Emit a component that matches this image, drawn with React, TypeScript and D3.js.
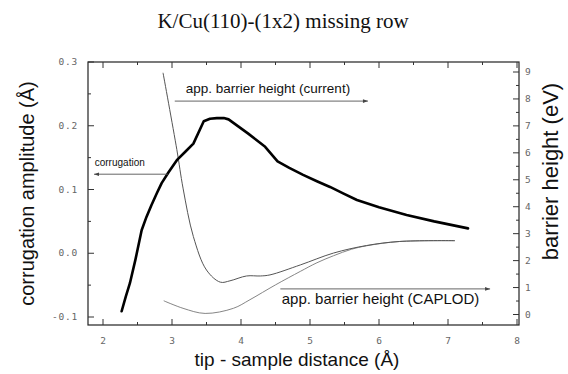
import React from "react";
import * as d3 from "d3";

const title = "K/Cu(110)-(1x2) missing row";
const xTicks = [2, 3, 4, 5, 6, 7, 8];
const leftTicks = [-0.1, 0.0, 0.1, 0.2, 0.3];
const rightTicks = [0, 1, 2, 3, 4, 5, 6, 7, 8, 9];

// corrugation amplitude (Å), left axis
const corrX = [2.27, 2.33, 2.39, 2.47, 2.56, 2.63, 2.7, 2.78, 2.85, 2.95, 3.07, 3.2, 3.31, 3.46, 3.55, 3.65, 3.75, 3.82, 4.1, 4.35, 4.53, 4.7, 4.9, 5.1, 5.29, 5.48, 5.68, 6.0, 6.4, 6.8, 7.29];
const corrY = [-0.091, -0.068, -0.047, -0.01, 0.036, 0.057, 0.075, 0.094, 0.11, 0.127, 0.146, 0.16, 0.172, 0.207, 0.211, 0.212, 0.212, 0.21, 0.188, 0.167, 0.144, 0.134, 0.123, 0.113, 0.104, 0.094, 0.0835, 0.072, 0.06, 0.05, 0.039];

// apparent barrier height (current), right axis
const curX = [2.87, 3.07, 3.16, 3.31, 3.5, 3.7, 3.84, 4.08, 4.28, 4.42, 4.86, 5.34, 5.82, 6.3, 7.1];
const curY = [8.97, 6.12, 4.69, 2.89, 1.65, 1.2, 1.25, 1.43, 1.43, 1.47, 1.84, 2.28, 2.56, 2.71, 2.74];

// apparent barrier height (CAPLOD), right axis
const capX = [2.88, 3.16, 3.48, 3.89, 4.13, 4.5, 4.86, 5.1, 5.34, 5.6, 5.82, 6.3, 7.1];
const capY = [0.51, 0.23, 0.04, 0.23, 0.55, 1.1, 1.6, 1.92, 2.18, 2.42, 2.55, 2.71, 2.74];

const W = 568;
const H = 374;
const frameL = 88, frameR = 519, frameT = 62, frameB = 325;

export default function App() {
  const x = d3.scaleLinear().domain([2, 8]).range([103, 517]);
  const yL = d3.scaleLinear().domain([-0.1, 0.3]).range([317, 62]);
  const yR = d3.scaleLinear().domain([0, 9]).range([314.5, 72]);

  const lineL = d3.line<number>().x((_, i) => x(corrX[i])).y((d) => yL(d)).curve(d3.curveLinear);
  const lineCur = d3.line<number>().x((_, i) => x(curX[i])).y((d) => yR(d)).curve(d3.curveCatmullRom.alpha(0.5));
  const lineCap = d3.line<number>().x((_, i) => x(capX[i])).y((d) => yR(d)).curve(d3.curveCatmullRom.alpha(0.5));

  const xMinor = d3.range(2, 8.01, 0.5);
  const lMinor = d3.range(-0.1, 0.301, 0.05);
  const rMinor = d3.range(0, 9.01, 0.5);

  const tickFont = { fontFamily: "DejaVu Sans Mono", fontSize: 9.5, fill: "#666" } as const;
  const sans = "Liberation Sans, Arial, sans-serif";

  const arrowHead = (px: number, py: number, dir: number) => (
    <path d={`M${px},${py} L${px - dir * 5},${py - 1.8} L${px - dir * 5},${py + 1.8} Z`} fill="#444" />
  );

  // annotation arrows in data units
  const aCur = { x1: 3.04, x2: 5.84, y: 7.92 };
  const aCorr = { x1: 1.87, x2: 2.94, y: 0.124 };
  const aCap = { x1: 4.57, x2: 7.61, y: 0.95 };

  return (
    <svg width={W} height={H} style={{ position: "absolute", left: 0, top: 0, background: "#fff" }}>
      <rect width={W} height={H} fill="#fff" />
      <text x={283} y={28} textAnchor="middle" fontFamily="Liberation Serif, Times New Roman, serif" fontSize={21} fill="#111">
        {title}
      </text>

      {/* frame */}
      <rect x={frameL} y={frameT} width={frameR - frameL} height={frameB - frameT} fill="none" stroke="#222" strokeWidth={1.2} />

      {/* bottom/top ticks */}
      {xMinor.map((v, i) => {
        const major = Math.abs(v - Math.round(v)) < 1e-6;
        const len = major ? 6 : 3;
        return (
          <g key={"xt" + i}>
            <line x1={x(v)} x2={x(v)} y1={frameB} y2={frameB - len} stroke="#333" strokeWidth={1} />
            <line x1={x(v)} x2={x(v)} y1={frameT} y2={frameT + len} stroke="#333" strokeWidth={1} />
          </g>
        );
      })}
      {xTicks.map((v) => (
        <text key={"xl" + v} x={x(v)} y={344} textAnchor="middle" {...tickFont}>
          {String(v)}
        </text>
      ))}

      {/* left ticks */}
      {lMinor.map((v, i) => {
        const major = i % 2 === 0;
        return <line key={"lt" + i} x1={frameL} x2={frameL + (major ? 6 : 3)} y1={yL(v)} y2={yL(v)} stroke="#333" strokeWidth={1} />;
      })}
      {leftTicks.map((v) => (
        <text key={"ll" + v} x={78} y={yL(v) + 3} textAnchor="end" letterSpacing={0.8} {...tickFont}>
          {d3.format(".1f")(v).replace("−", "-")}
        </text>
      ))}

      {/* right ticks */}
      {rMinor.map((v, i) => {
        const major = i % 2 === 0;
        return <line key={"rt" + i} x1={frameR} x2={frameR - (major ? 6 : 3)} y1={yR(v)} y2={yR(v)} stroke="#333" strokeWidth={1} />;
      })}
      {rightTicks.map((v) => (
        <text key={"rl" + v} x={525} y={yR(v) + 3} textAnchor="start" {...tickFont}>
          {String(v)}
        </text>
      ))}

      {/* axis labels */}
      <text transform={`translate(34,${(frameT + frameB) / 2}) rotate(-90)`} textAnchor="middle" fontFamily={sans} fontSize={20} fill="#111">
        corrugation amplitude (Å)
      </text>
      <text transform={`translate(558,${(frameT + frameB) / 2 - 22}) rotate(-90)`} textAnchor="middle" fontFamily={sans} fontSize={22} fill="#111">
        barrier height (eV)
      </text>
      <text x={297} y={366} textAnchor="middle" fontFamily={sans} fontSize={19} fill="#111">
        tip - sample distance (Å)
      </text>

      {/* curves */}
      <path d={lineCap(capY) || ""} fill="none" stroke="#777" strokeWidth={0.9} />
      <path d={lineCur(curY) || ""} fill="none" stroke="#555" strokeWidth={1} />
      <path d={lineL(corrY) || ""} fill="none" stroke="#000" strokeWidth={2.6} strokeLinejoin="round" strokeLinecap="round" />

      {/* annotations */}
      <line x1={x(aCur.x1)} x2={x(aCur.x2)} y1={yR(aCur.y)} y2={yR(aCur.y)} stroke="#555" strokeWidth={0.9} />
      {arrowHead(x(aCur.x2), yR(aCur.y), 1)}
      <text x={x(3.2)} y={yR(8.23)} fontFamily={sans} fontSize={13.5} fill="#111">
        app. barrier height (current)
      </text>

      <line x1={x(aCorr.x1)} x2={x(aCorr.x2)} y1={yL(aCorr.y)} y2={yL(aCorr.y)} stroke="#555" strokeWidth={0.9} />
      {arrowHead(x(aCorr.x1), yL(aCorr.y), -1)}
      <text x={x(1.88)} y={yL(0.137)} fontFamily={sans} fontSize={10} fill="#111">
        corrugation
      </text>

      <line x1={x(aCap.x1)} x2={x(aCap.x2)} y1={yR(aCap.y)} y2={yR(aCap.y)} stroke="#555" strokeWidth={0.9} />
      {arrowHead(x(aCap.x2), yR(aCap.y), 1)}
      <text x={x(4.59)} y={yR(0.39)} fontFamily={sans} fontSize={15} fill="#111">
        app. barrier height (CAPLOD)
      </text>
    </svg>
  );
}
